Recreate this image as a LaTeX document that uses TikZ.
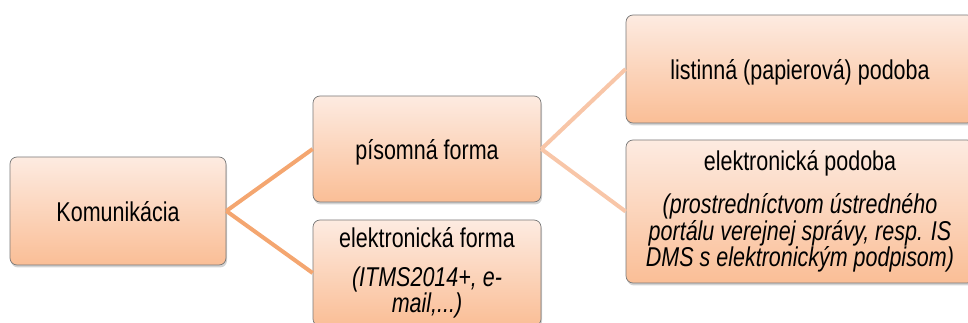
\documentclass[tikz,border=0pt]{standalone}
\usepackage{fontspec}
\setmainfont{Liberation Sans}[FakeStretch=0.79]
\usetikzlibrary{shadows}
\definecolor{BoxTop}{RGB}{253,235,225}
\definecolor{BoxBot}{RGB}{250,190,150}
\definecolor{LinkOne}{RGB}{244,166,112}
\definecolor{LinkTwo}{RGB}{248,198,168}
\definecolor{BoxLine}{RGB}{120,120,120}

\begin{document}
\begin{tikzpicture}[x=1pt,y=1pt,
  box/.style={draw=BoxLine,line width=0.7pt,rounded corners=7pt,
    top color=BoxTop,bottom color=BoxBot,align=center,inner sep=2pt,
    font=\fontsize{27.2}{24.5}\selectfont,
    drop shadow={shadow xshift=1pt,shadow yshift=-2.5pt,opacity=0.35}},
  oneline/.style={box,text depth=0pt},
  linkA/.style={draw=LinkOne,line width=4pt},
  linkB/.style={draw=LinkTwo,line width=4pt}]
\useasboundingbox (0,0) rectangle (968,323);
\clip (0,0) rectangle (968,323);

% boxes
\node[oneline,minimum width=216,minimum height=108] (kom) at (118,112) {Komunik\'acia};
\node[oneline,minimum width=228,minimum height=106] (pis) at (427,174) {p\'isomn\'a forma};
\node[box,minimum width=228,minimum height=106] (elf) at (427,50)
  {elektronick\'a forma\\[14pt]\textit{(ITMS2014+, e-}\\\textit{mail,...)}};
\node[oneline,minimum width=348,minimum height=108] (lis) at (800,254) {listinn\'a (papierov\'a) podoba};
\node[box,minimum width=348,minimum height=143] (elp) at (800,111.5)
  {elektronick\'a podoba\\[16pt]\textit{(prostredn\'ictvom \'ustredn\'eho}\\
   \textit{port\'alu verejnej spr\'avy, resp. IS}\\\textit{DMS s elektronick\'ym podpisom)}};

% links
\draw[linkA] (kom.east) -- (pis.west);
\draw[linkA] (kom.east) -- (elf.west);
\draw[linkB] (pis.east) -- (lis.west);
\draw[linkB] (pis.east) -- (elp.west);
\end{tikzpicture}
\end{document}
